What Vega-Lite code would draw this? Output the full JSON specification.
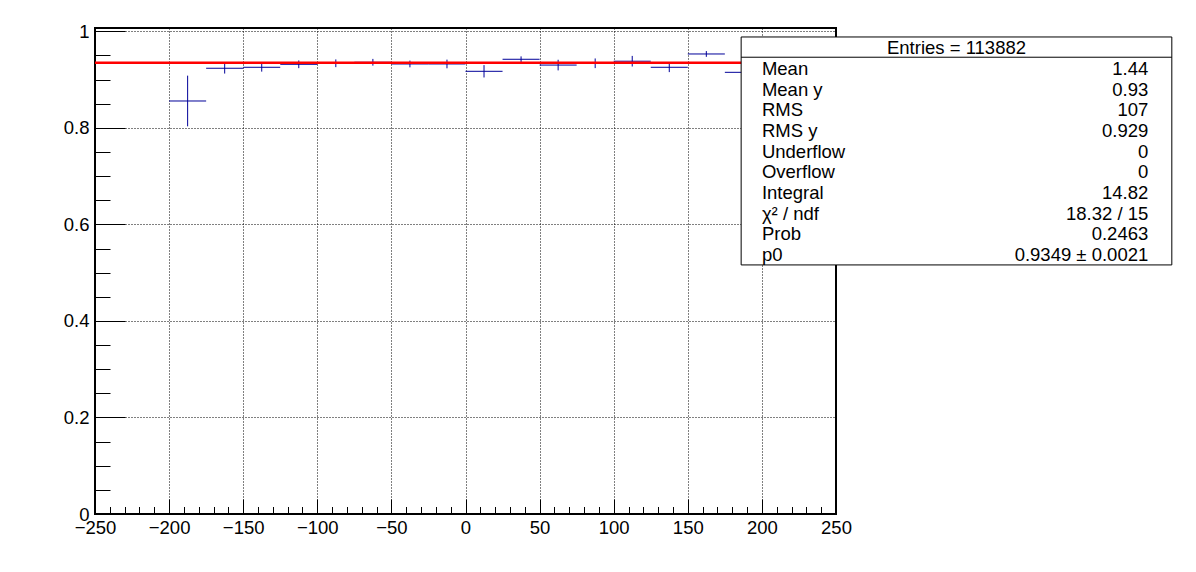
{
  "$schema": "https://vega.github.io/schema/vega-lite/v6.json",
  "autosize": "none",
  "width": 741,
  "height": 486,
  "padding": {"left": 95, "top": 28, "right": 360, "bottom": 58},
  "background": "white",
  "config": {
    "view": {"stroke": "black", "strokeWidth": 2},
    "font": "Liberation Sans",
    "axis": {"labelFont": "Liberation Sans", "labelFontSize": 18.5, "labelColor": "black", "title": null, "domain": false, "labelFlush": false, "labelOverlap": false, "labelBound": false, "tickColor": "black", "tickWidth": 1, "gridColor": "black", "gridDash": [1, 2], "gridWidth": 1, "gridOpacity": 1}
  },
  "datasets": {
    "bins": [
      {"xlo": -200, "xhi": -175, "xc": -187.5, "y": 0.8556, "ylo": 0.8031, "yhi": 0.9081},
      {"xlo": -175, "xhi": -150, "xc": -162.5, "y": 0.9234, "ylo": 0.9124, "yhi": 0.9344},
      {"xlo": -150, "xhi": -125, "xc": -137.5, "y": 0.9254, "ylo": 0.9164, "yhi": 0.9344},
      {"xlo": -125, "xhi": -100, "xc": -112.5, "y": 0.9316, "ylo": 0.9236, "yhi": 0.9396},
      {"xlo": -100, "xhi": -75, "xc": -87.5, "y": 0.9337, "ylo": 0.9257, "yhi": 0.9417},
      {"xlo": -75, "xhi": -50, "xc": -62.5, "y": 0.9358, "ylo": 0.9288, "yhi": 0.9428},
      {"xlo": -50, "xhi": -25, "xc": -37.5, "y": 0.9323, "ylo": 0.9253, "yhi": 0.9393},
      {"xlo": -25, "xhi": 0, "xc": -12.5, "y": 0.9323, "ylo": 0.9233, "yhi": 0.9413},
      {"xlo": 0, "xhi": 25, "xc": 12.5, "y": 0.9171, "ylo": 0.9043, "yhi": 0.9299},
      {"xlo": 25, "xhi": 50, "xc": 37.5, "y": 0.942, "ylo": 0.936, "yhi": 0.948},
      {"xlo": 50, "xhi": 75, "xc": 62.5, "y": 0.930, "ylo": 0.919, "yhi": 0.941},
      {"xlo": 75, "xhi": 100, "xc": 87.5, "y": 0.9337, "ylo": 0.9237, "yhi": 0.9437},
      {"xlo": 100, "xhi": 125, "xc": 112.5, "y": 0.938, "ylo": 0.927, "yhi": 0.949},
      {"xlo": 125, "xhi": 150, "xc": 137.5, "y": 0.9254, "ylo": 0.9154, "yhi": 0.9354},
      {"xlo": 150, "xhi": 175, "xc": 162.5, "y": 0.953, "ylo": 0.947, "yhi": 0.959},
      {"xlo": 175, "xhi": 200, "xc": 187.5, "y": 0.915, "ylo": 0.907, "yhi": 0.923}
    ],
    "fit": [{"p0": 0.9349}],
    "header": [{"row": 0, "label": "Entries = 113882"}],
    "stats": [
      {"row": 1, "label": "Mean", "value": "1.44"},
      {"row": 2, "label": "Mean y", "value": "0.93"},
      {"row": 3, "label": "RMS", "value": "107"},
      {"row": 4, "label": "RMS y", "value": "0.929"},
      {"row": 5, "label": "Underflow", "value": "0"},
      {"row": 6, "label": "Overflow", "value": "0"},
      {"row": 7, "label": "Integral", "value": "14.82"},
      {"row": 8, "label": "χ² / ndf", "value": "18.32 / 15"},
      {"row": 9, "label": "Prob", "value": "0.2463"},
      {"row": 10, "label": "p0", "value": "0.9349 ± 0.0021"}
    ]
  },
  "resolve": {"scale": {"y": "independent"}, "axis": {"x": "independent", "y": "independent"}},
  "layer": [
    {
      "data": {"name": "bins"},
      "mark": {"type": "rule", "color": "#000099", "strokeWidth": 1},
      "encoding": {
        "x": {"field": "xlo", "type": "quantitative", "scale": {"domain": [-250, 250], "nice": false, "zero": false},
              "axis": {"orient": "bottom", "values": [-250, -200, -150, -100, -50, 0, 50, 100, 150, 200, 250], "format": "d", "ticks": false, "tickSize": 0, "labelPadding": 4, "grid": true}},
        "x2": {"field": "xhi"},
        "y": {"field": "y", "type": "quantitative", "scale": {"domain": [0, 1.0068], "nice": false, "zero": false},
              "axis": {"orient": "left", "values": [0, 0.2, 0.4, 0.6, 0.8, 1], "format": "~g", "ticks": false, "tickSize": 0, "labelPadding": 6, "grid": true}}
      }
    },
    {
      "data": {"name": "bins"},
      "mark": {"type": "rule", "color": "#000099", "strokeWidth": 1},
      "encoding": {
        "x": {"field": "xc", "type": "quantitative", "scale": {"domain": [-250, 250], "nice": false, "zero": false},
              "axis": {"orient": "bottom", "values": [-250, -200, -150, -100, -50, 0, 50, 100, 150, 200, 250], "labels": false, "grid": false, "ticks": true, "tickSize": -15}},
        "y": {"field": "ylo", "type": "quantitative", "scale": {"domain": [0, 1.0068], "nice": false, "zero": false},
              "axis": {"orient": "left", "values": [0, 0.2, 0.4, 0.6, 0.8, 1], "labels": false, "grid": false, "ticks": true, "tickSize": -30}},
        "y2": {"field": "yhi"}
      }
    },
    {
      "data": {"name": "fit"},
      "mark": {"type": "rule", "color": "#ff0000", "strokeWidth": 2.5},
      "encoding": {
        "x": {"datum": -250, "type": "quantitative", "scale": {"domain": [-250, 250], "nice": false, "zero": false},
              "axis": {"orient": "bottom", "values": [-240, -230, -220, -210, -190, -180, -170, -160, -140, -130, -120, -110, -90, -80, -70, -60, -40, -30, -20, -10, 10, 20, 30, 40, 60, 70, 80, 90, 110, 120, 130, 140, 160, 170, 180, 190, 210, 220, 230, 240], "labels": false, "grid": false, "ticks": true, "tickSize": -7.5}},
        "x2": {"datum": 250},
        "y": {"field": "p0", "type": "quantitative", "scale": {"domain": [0, 1.0068], "nice": false, "zero": false},
              "axis": {"orient": "left", "values": [0.05, 0.1, 0.15, 0.25, 0.3, 0.35, 0.45, 0.5, 0.55, 0.65, 0.7, 0.75, 0.85, 0.9, 0.95], "labels": false, "grid": false, "ticks": true, "tickSize": -15}}
      }
    },
    {
      "data": {"name": "header"},
      "mark": {"type": "rect", "fill": "white", "stroke": "black", "strokeWidth": 1},
      "encoding": {
        "x": {"datum": 186, "type": "quantitative", "scale": {"domain": [-250, 250], "nice": false, "zero": false}, "axis": null},
        "x2": {"datum": 476.6},
        "y": {"datum": -0.55, "type": "quantitative", "scale": {"domain": [-0.984, 22.532], "reverse": true, "nice": false, "zero": false}, "axis": null},
        "y2": {"datum": 10.48}
      }
    },
    {
      "data": {"name": "header"},
      "mark": {"type": "rule", "color": "black", "strokeWidth": 1},
      "encoding": {
        "x": {"datum": 186, "type": "quantitative", "scale": {"domain": [-250, 250], "nice": false, "zero": false}, "axis": null},
        "x2": {"datum": 476.6},
        "y": {"datum": 0.43, "type": "quantitative", "scale": {"domain": [-0.984, 22.532], "reverse": true, "nice": false, "zero": false}, "axis": null}
      }
    },
    {
      "data": {"name": "header"},
      "mark": {"type": "text", "align": "center", "baseline": "middle", "fontSize": 18.5, "font": "Liberation Sans", "color": "black"},
      "encoding": {
        "x": {"datum": 331.3, "type": "quantitative", "scale": {"domain": [-250, 250], "nice": false, "zero": false}, "axis": null},
        "y": {"field": "row", "type": "quantitative", "scale": {"domain": [-0.984, 22.532], "reverse": true, "nice": false, "zero": false}, "axis": null},
        "text": {"field": "label"}
      }
    },
    {
      "data": {"name": "stats"},
      "mark": {"type": "text", "align": "left", "baseline": "middle", "fontSize": 18.5, "font": "Liberation Sans", "color": "black"},
      "encoding": {
        "x": {"datum": 200, "type": "quantitative", "scale": {"domain": [-250, 250], "nice": false, "zero": false}, "axis": null},
        "y": {"field": "row", "type": "quantitative", "scale": {"domain": [-0.984, 22.532], "reverse": true, "nice": false, "zero": false}, "axis": null},
        "text": {"field": "label"}
      }
    },
    {
      "data": {"name": "stats"},
      "mark": {"type": "text", "align": "right", "baseline": "middle", "fontSize": 18.5, "font": "Liberation Sans", "color": "black"},
      "encoding": {
        "x": {"datum": 460.7, "type": "quantitative", "scale": {"domain": [-250, 250], "nice": false, "zero": false}, "axis": null},
        "y": {"field": "row", "type": "quantitative", "scale": {"domain": [-0.984, 22.532], "reverse": true, "nice": false, "zero": false}, "axis": null},
        "text": {"field": "value"}
      }
    }
  ]
}
